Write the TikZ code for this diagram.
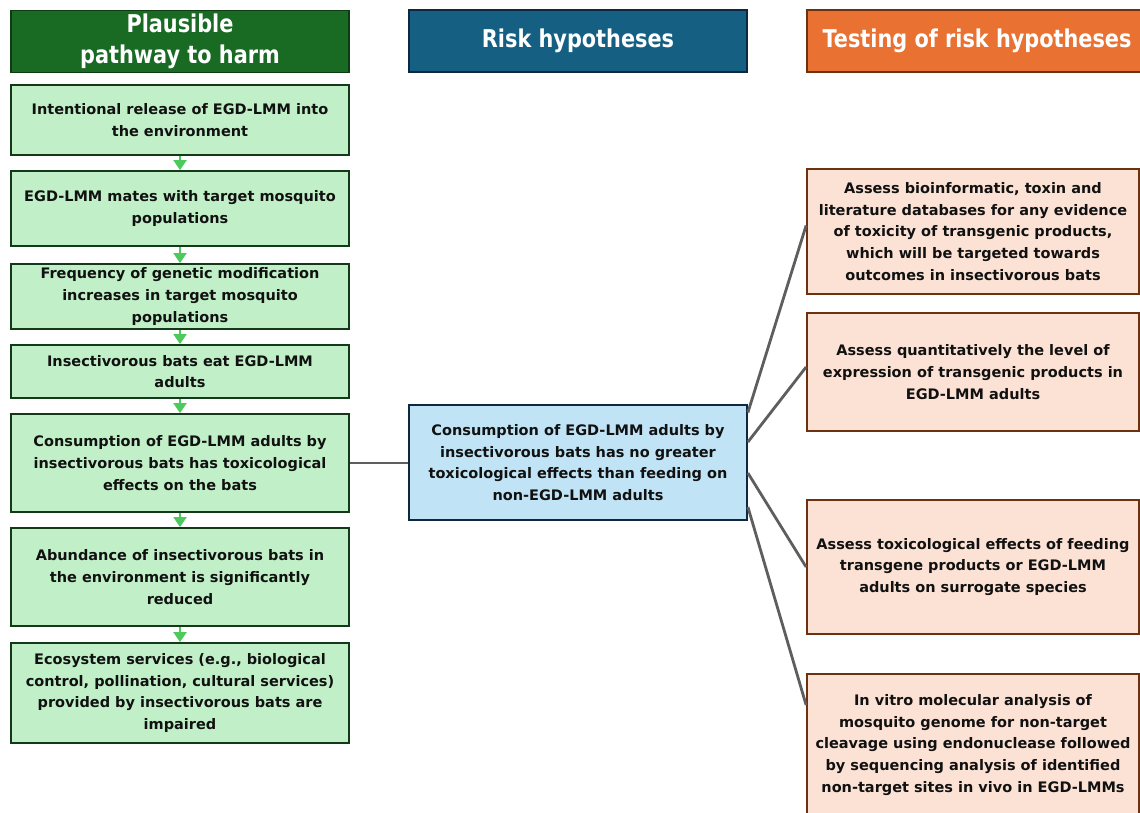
\documentclass[tikz,border=0pt]{standalone}
\usepackage{fontspec}
\setmainfont{DejaVu Sans}
\newfontfamily\headfont[FakeStretch=0.85]{DejaVu Sans}
\usetikzlibrary{arrows.meta}

% Office-style palette
\definecolor{hdgreen}{HTML}{196B24}
\definecolor{hdgreenedge}{HTML}{0E3A14}
\definecolor{hdblue}{HTML}{156082}
\definecolor{hdorange}{HTML}{E97132}
\definecolor{boxgreen}{HTML}{C1F0C8}
\definecolor{pathedge}{HTML}{123A18}
\definecolor{boxblue}{HTML}{C0E4F5}
\definecolor{navy}{HTML}{0E2841}
\definecolor{boxpeach}{HTML}{FBE2D5}
\definecolor{brownline}{HTML}{6E3110}
\definecolor{arrowgreen}{HTML}{4CCB5C}
\definecolor{linkgray}{HTML}{5E5E5E}
\definecolor{bodytext}{HTML}{111111}

\begin{document}
\begin{tikzpicture}[x=1pt,y=-1pt,
  box/.style={draw, line width=1.8pt, align=center, inner sep=0pt, text=bodytext,
    font=\bfseries\fontsize{14.5}{21.7}\selectfont},
  pathbox/.style={box, fill=boxgreen, draw=pathedge, minimum width=338pt},
  hypbox/.style={box, fill=boxblue, draw=navy, minimum width=338pt},
  testbox/.style={box, fill=boxpeach, draw=brownline, minimum width=332pt},
  head/.style={draw, line width=1.8pt, text=white, align=center, inner sep=0pt,
    minimum height=62pt, font=\headfont\bfseries\fontsize{24.5}{31}\selectfont},
  flow/.style={arrowgreen, line width=2pt, -{Triangle[width=13pt,length=10pt]}},
  link/.style={linkgray, line width=2.8pt}]
\clip (0,0) rectangle (1140,813);

% column headers
\node[head, fill=hdgreen, draw=hdgreenedge, minimum width=338pt] (h1) at (180,41.5) {Plausible\\pathway to harm};
\node[head, fill=hdblue, draw=navy, minimum width=338pt] (h2) at (578,41) {Risk hypotheses};
\node[head, fill=hdorange, draw=brownline, minimum width=340pt] (h3) at (977,41) {Testing of risk hypotheses};

% pathway to harm
\node[pathbox, minimum height=70pt] (p1) at (180,120) {Intentional release of EGD-LMM into\\the environment};
\node[pathbox, minimum height=75pt] (p2) at (180,208.5) {EGD-LMM mates with target mosquito\\populations};
\node[pathbox, minimum height=65pt] (p3) at (180,296.5) {Frequency of genetic modification\\increases in target mosquito\\populations};
\node[pathbox, minimum height=53pt] (p4) at (180,371.5) {Insectivorous bats eat EGD-LMM\\adults};
\node[pathbox, minimum height=98pt] (p5) at (180,463) {Consumption of EGD-LMM adults by\\insectivorous bats has toxicological\\effects on the bats};
\node[pathbox, minimum height=98pt] (p6) at (180,577) {Abundance of insectivorous bats in\\the environment is significantly\\reduced};
\node[pathbox, minimum height=100pt] (p7) at (180,693) {Ecosystem services (e.g., biological\\control, pollination, cultural services)\\provided by insectivorous bats are\\impaired};

\foreach \a/\b in {p1/p2,p2/p3,p3/p4,p4/p5,p5/p6,p6/p7}
  \draw[flow] (\a) -- (\b);

% risk hypothesis
\node[hypbox, minimum height=115pt] (mid) at (578,462.5) {Consumption of EGD-LMM adults by\\insectivorous bats has no greater\\toxicological effects than feeding on\\non-EGD-LMM adults};

% tests
\node[testbox, minimum height=125pt] (r1) at (973,231.5) {Assess bioinformatic, toxin and\\literature databases for any evidence\\of toxicity of transgenic products,\\which will be targeted towards\\outcomes in insectivorous bats};
\node[testbox, minimum height=118pt] (r2) at (973,372) {Assess quantitatively the level of\\expression of transgenic products in\\EGD-LMM adults};
\node[testbox, minimum height=134pt] (r3) at (973,567) {Assess toxicological effects of feeding\\transgene products or EGD-LMM\\adults on surrogate species};
\node[testbox, minimum height=142pt] (r4) at (973,745) {In vitro molecular analysis of\\mosquito genome for non-target\\cleavage using endonuclease followed\\by sequencing analysis of identified\\non-target sites in vivo in EGD-LMMs};

% connectors
\draw[link] (p5.east) -- (p5.east -| mid.west);
\draw[link] ([yshift=50pt]mid.east) -- ([yshift=6pt]r1.west);
\draw[link] ([yshift=20.5pt]mid.east) -- ([yshift=5pt]r2.west);
\draw[link] ([yshift=-10.5pt]mid.east) -- (r3.west);
\draw[link] ([yshift=-44.5pt]mid.east) -- ([yshift=40pt]r4.west);
\end{tikzpicture}
\end{document}
